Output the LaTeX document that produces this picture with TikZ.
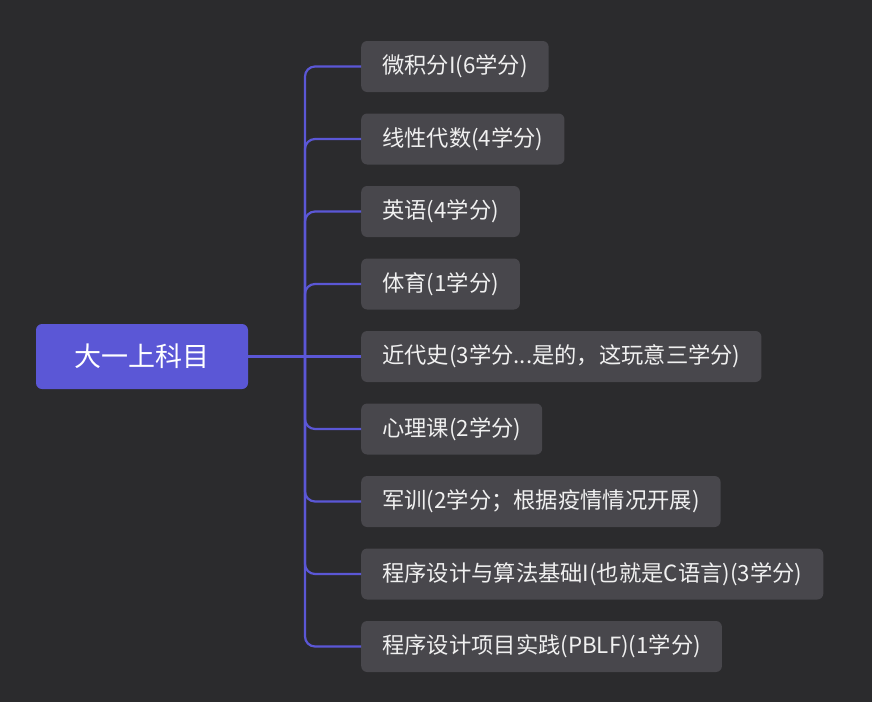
\documentclass[tikz,border=0pt]{standalone}
\usepackage{fontspec}
\newfontfamily\cjk{Noto Sans CJK SC}
\definecolor{bg}{HTML}{2B2B2D}
\definecolor{rootfill}{HTML}{5B57D6}
\definecolor{childfill}{HTML}{48474C}
\definecolor{linec}{HTML}{5B57D6}
\definecolor{txt}{HTML}{F0F0F0}
\tikzset{
  rootbox/.style={fill=rootfill, rounded corners=6pt, minimum width=212pt, minimum height=65pt,
    inner sep=0pt, text=white, font=\cjk\fontsize{27}{32}\selectfont},
  childbox/.style={fill=childfill, rounded corners=6pt, minimum height=51pt, inner xsep=21pt,
    inner ysep=0pt, anchor=west, text=txt, font=\cjk\fontsize{22.3}{26}\selectfont},
  conn/.style={draw=linec, line width=2.2pt, rounded corners=10pt}
}
\begin{document}
\begin{tikzpicture}[x=1pt,y=-1pt]
\fill[bg] (0,0) rectangle (872,702);
\useasboundingbox (0,0) rectangle (872,702);
\node[rootbox] (root) at (142,356.5) {大一上科目};
\coordinate (j) at (305,356.5);
\node[childbox] (c1) at (361,66.5) {微积分I(6学分)};
\node[childbox] (c2) at (361,139) {线性代数(4学分)};
\node[childbox] (c3) at (361,211.5) {英语(4学分)};
\node[childbox] (c4) at (361,284) {体育(1学分)};
\node[childbox] (c5) at (361,356.5) {近代史(3学分...是的，这玩意三学分)};
\node[childbox] (c6) at (361,429) {心理课(2学分)};
\node[childbox] (c7) at (361,501.5) {军训(2学分；根据疫情情况开展)};
\node[childbox] (c8) at (361,574) {程序设计与算法基础I(也就是C语言)(3学分)};
\node[childbox] (c9) at (361,646.5) {程序设计项目实践(PBLF)(1学分)};
\draw[conn] (root.east) -- (c5.west);
\foreach \c in {c1,c2,c3,c4,c6,c7,c8,c9} {
  \draw[conn] (j) |- (\c.west);
}
\end{tikzpicture}
\end{document}
